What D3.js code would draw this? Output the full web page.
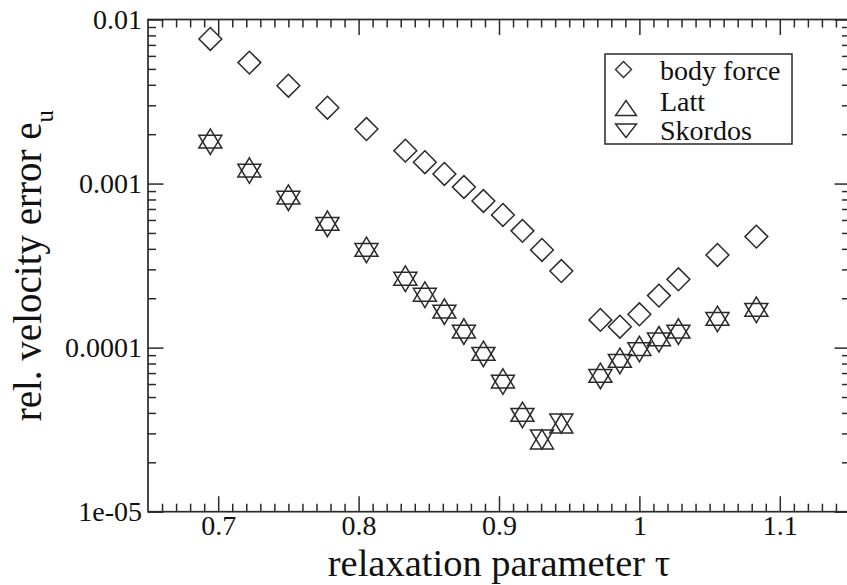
<!DOCTYPE html>
<html>
<head>
<meta charset="utf-8">
<script src="https://cdn.jsdelivr.net/npm/d3@7"></script>
<style>
  html, body { margin: 0; padding: 0; background: #fff; }
  svg { display: block; }
  text { font-family: "Liberation Serif", "Times New Roman", serif; fill: #111; }
</style>
</head>
<body>
<svg id="chart" width="847" height="585"></svg>
<script>
// relaxation parameter tau = n/72
const tau = [0.6944, 0.7222, 0.75, 0.7778, 0.8056, 0.8333, 0.8472, 0.8611, 0.875, 0.8889,
             0.9028, 0.9167, 0.9306, 0.9444, 0.9722, 0.9861, 1.0, 1.0139, 1.0278, 1.0556, 1.0833];

const bodyForce = [0.00761, 0.00546, 0.00395, 0.0029, 0.00215, 0.001587, 0.001349, 0.001144, 0.000953, 0.000783,
                   0.000644, 0.000515, 0.000394, 0.000293, 0.0001476, 0.0001342, 0.0001597, 0.0002075, 0.000261, 0.000367, 0.000475];

const latt = [0.0018, 0.0012, 0.00082, 0.000568, 0.000394, 0.000263, 0.00021, 0.0001657, 0.0001252, 0.0000916,
              0.0000621, 0.0000389, 0.0000264, 0.000033, 0.0000672, 0.000083, 0.000098, 0.0001124, 0.0001252, 0.0001496, 0.00017];

const skordos = [0.0018, 0.0012, 0.00082, 0.000568, 0.000394, 0.000263, 0.00021, 0.0001657, 0.0001252, 0.0000916,
                 0.0000621, 0.0000389, 0.0000288, 0.000036, 0.0000672, 0.000083, 0.000098, 0.0001124, 0.0001252, 0.0001496, 0.00017];

const xMajor = [0.7, 0.8, 0.9, 1.0, 1.1];
const xLabels = ["0.7", "0.8", "0.9", "1", "1.1"];
const yMajor = [1e-5, 1e-4, 1e-3, 1e-2];
const yLabels = ["1e-05", "0.0001", "0.001", "0.01"];

const legendNames = ["body force", "Latt", "Skordos"];

const svg = d3.select("#chart");
const ink = "#2a2a2a";

const plotL = 148, plotR = 850, plotT = 19.5, plotB = 511.7;
const x = d3.scaleLinear().domain([0.65, 1.15]).range([plotL, plotR]);
const y = d3.scaleLog().domain([1e-5, 1e-2]).range([plotB, plotT]);

const majorLen = 15.5, minorLen = 8;

const xMinor = d3.range(66, 115).map(d => d / 100).filter(v => !xMajor.some(m => Math.abs(m - v) < 1e-9));
const yMinor = [];
[1e-5, 1e-4, 1e-3].forEach(dec => { for (let k = 2; k <= 9; k++) yMinor.push(dec * k); });

function styleAxis(g) {
  g.select(".domain").remove();
  g.selectAll(".tick line").attr("stroke", ink).attr("stroke-width", 1.5);
}

// bottom axis with labels
svg.append("g").attr("transform", `translate(0,${plotB})`)
  .call(d3.axisBottom(x).tickValues(xMajor).tickSize(-majorLen).tickPadding(3)
        .tickFormat((d, i) => xLabels[i]))
  .call(styleAxis)
  .call(g => g.selectAll("text").attr("font-size", 28).style("font-family", "Liberation Serif").attr("fill", "#111"));
svg.append("g").attr("transform", `translate(0,${plotB})`)
  .call(d3.axisBottom(x).tickValues(xMinor).tickSize(-minorLen).tickFormat(""))
  .call(styleAxis);

// top axis, ticks only
svg.append("g").attr("transform", `translate(0,${plotT})`)
  .call(d3.axisTop(x).tickValues(xMajor).tickSize(-majorLen).tickFormat(""))
  .call(styleAxis);
svg.append("g").attr("transform", `translate(0,${plotT})`)
  .call(d3.axisTop(x).tickValues(xMinor).tickSize(-minorLen).tickFormat(""))
  .call(styleAxis);

// left axis with labels
svg.append("g").attr("transform", `translate(${plotL},0)`)
  .call(d3.axisLeft(y).tickValues(yMajor).tickSize(-majorLen).tickPadding(6)
        .tickFormat((d, i) => yLabels[i]))
  .call(styleAxis)
  .call(g => g.selectAll("text").attr("font-size", 28).style("font-family", "Liberation Serif").attr("fill", "#111"));
svg.append("g").attr("transform", `translate(${plotL},0)`)
  .call(d3.axisLeft(y).tickValues(yMinor).tickSize(-minorLen).tickFormat(""))
  .call(styleAxis);

// right axis, ticks only
svg.append("g").attr("transform", `translate(${plotR},0)`)
  .call(d3.axisRight(y).tickValues(yMajor).tickSize(-majorLen).tickFormat(""))
  .call(styleAxis);
svg.append("g").attr("transform", `translate(${plotR},0)`)
  .call(d3.axisRight(y).tickValues(yMinor).tickSize(-minorLen).tickFormat(""))
  .call(styleAxis);

// frame
svg.append("rect")
  .attr("x", plotL).attr("y", plotT)
  .attr("width", plotR - plotL).attr("height", plotB - plotT)
  .attr("fill", "none").attr("stroke", ink).attr("stroke-width", 1.7);

// marker shapes
const diamond = r => `M0,${-r}L${r},0L0,${r}L${-r},0Z`;
const triUp = (s, a) => `M0,${-a}L${s},${a / 2}L${-s},${a / 2}Z`;
const triDown = (s, a) => `M0,${a}L${s},${-a / 2}L${-s},${-a / 2}Z`;

function plotSeries(values, shape) {
  svg.append("g").selectAll("path")
    .data(values.map((v, i) => [tau[i], v]))
    .join("path")
    .attr("transform", d => `translate(${x(d[0])},${y(d[1])})`)
    .attr("d", shape)
    .attr("fill", "none")
    .attr("stroke", ink)
    .attr("stroke-width", 1.5)
    .attr("stroke-linejoin", "miter");
}

plotSeries(bodyForce, diamond(11.4));
plotSeries(latt, triUp(11.5, 12.8));
plotSeries(skordos, triDown(11.5, 12.8));

// legend
const lg = svg.append("g");
lg.append("rect").attr("x", 605).attr("y", 54).attr("width", 187).attr("height", 90)
  .attr("fill", "#fff").attr("stroke", ink).attr("stroke-width", 1.5);
const legendShapes = [
  { d: diamond(8), cx: 623.5, cy: 69.5 },
  { d: triUp(10.5, 10), cx: 626, cy: 110.5 },
  { d: triDown(10.5, 9), cx: 626, cy: 128.5 }
];
const legendBase = [80, 111, 140];
legendNames.forEach((name, i) => {
  lg.append("path").attr("d", legendShapes[i].d)
    .attr("transform", `translate(${legendShapes[i].cx},${legendShapes[i].cy})`)
    .attr("fill", "none").attr("stroke", ink).attr("stroke-width", 1.4);
  lg.append("text").attr("x", 660).attr("y", legendBase[i])
    .attr("font-size", 28).text(name);
});

// axis titles
svg.append("text")
  .attr("x", (plotL + plotR) / 2).attr("y", 576)
  .attr("text-anchor", "middle").attr("font-size", 38.5)
  .text("relaxation parameter τ");

const yt = svg.append("text")
  .attr("transform", `translate(41,${(plotT + plotB) / 2}) rotate(-90)`)
  .attr("text-anchor", "middle").attr("font-size", 39);
yt.append("tspan").text("rel. velocity error e");
yt.append("tspan").attr("font-size", 25).attr("dy", 12).text("u");
</script>
</body>
</html>
